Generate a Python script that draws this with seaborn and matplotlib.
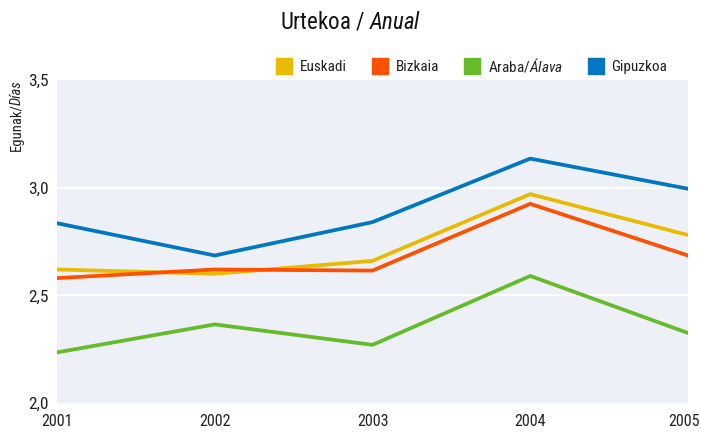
import pandas as pd
import matplotlib
matplotlib.use("Agg")
import matplotlib.pyplot as plt
from matplotlib import font_manager
from matplotlib.lines import Line2D
from matplotlib.ticker import FuncFormatter
from matplotlib.transforms import ScaledTranslation
import seaborn as sns

years = [2001, 2002, 2003, 2004, 2005]
euskadi = [2.62, 2.60, 2.66, 2.97, 2.78]
bizkaia = [2.58, 2.62, 2.615, 2.925, 2.685]
araba = [2.235, 2.365, 2.27, 2.59, 2.325]
gipuzkoa = [2.835, 2.685, 2.84, 3.135, 2.995]

series = ["Euskadi", "Bizkaia", "Araba/Álava", "Gipuzkoa"]
colors = ["#E8BA00", "#FF4F00", "#66BB2A", "#0077C0"]

df = pd.DataFrame({"year": years * 4,
                   "value": euskadi + bizkaia + araba + gipuzkoa,
                   "region": [s for s in series for _ in years]})

# pick a narrow font if one is there
names = {f.name for f in font_manager.fontManager.ttflist}
fam = "Roboto"
for cand in ["Liberation Sans Narrow", "Roboto Condensed", "Open Sans Condensed"]:
    if cand in names:
        fam = cand
        break

sns.set_theme(style="white")
plt.rcParams["font.family"] = [fam, "DejaVu Sans"]
plt.rcParams["mathtext.fontset"] = "custom"
plt.rcParams["mathtext.rm"] = fam
plt.rcParams["mathtext.it"] = fam + ":italic"

fig = plt.figure(figsize=(7.01, 4.32), dpi=100)
ax = fig.add_axes([57 / 701, 29 / 432, 631 / 701, 323 / 432])
ax.set_facecolor("#EDF0F7")

sns.lineplot(data=df, x="year", y="value", hue="region", palette=colors,
             linewidth=2.7, legend=False, ax=ax)

ax.set_xlim(2001, 2005)
ax.set_ylim(2.0, 3.5)
ax.set_xticks(years)
ax.set_yticks([2.0, 2.5, 3.0, 3.5])
ax.yaxis.set_major_formatter(FuncFormatter(lambda v, p: f"{v:.1f}".replace(".", ",")))
for y in [2.5, 3.0]:
    ax.axhline(y, color="white", lw=1.5, zorder=1)
ax.tick_params(axis="x", direction="in", length=18, color="white", width=1.5,
               pad=8, labelsize=11.5, labelcolor="#222222")
ax.tick_params(axis="y", length=0, pad=6, labelsize=12.5, labelcolor="#222222")
last = ax.get_xticklabels()[-1]
last.set_transform(last.get_transform() + ScaledTranslation(-4 / 100, 0, fig.dpi_scale_trans))
for s in ax.spines.values():
    s.set_visible(False)
ax.set_xlabel("")
ax.set_ylabel("")

fig.text(0.5, 1 - 22 / 432, r"Urtekoa / $\mathit{Anual}$", ha="center", va="center",
         fontsize=16.5, color="#111111")

t1 = fig.text(17 / 701, 1 - 151 / 432, "Egunak/", rotation=90, ha="center", va="bottom",
              fontsize=10.5, color="#222222")
fig.canvas.draw()
bb = t1.get_window_extent()
fig.text(17 / 701, (bb.y1 - 2) / fig.bbox.height, "Días", rotation=90, ha="center",
         va="bottom", fontsize=10.5, style="italic", color="#222222")

labels = ["Euskadi", "Bizkaia", r"Araba/$\mathit{Álava}$", "Gipuzkoa"]
handles = [Line2D([], [], marker="s", ls="none", markersize=11, color=c) for c in colors]
fig.legend(handles, labels, ncol=4, frameon=False, loc="center right",
           bbox_to_anchor=(675 / 701, 1 - 65 / 432), fontsize=11,
           handletextpad=0.5, columnspacing=1.7, handlelength=1.0, borderpad=0,
           labelcolor="#222222")

fig.savefig("out.png", dpi=100)
